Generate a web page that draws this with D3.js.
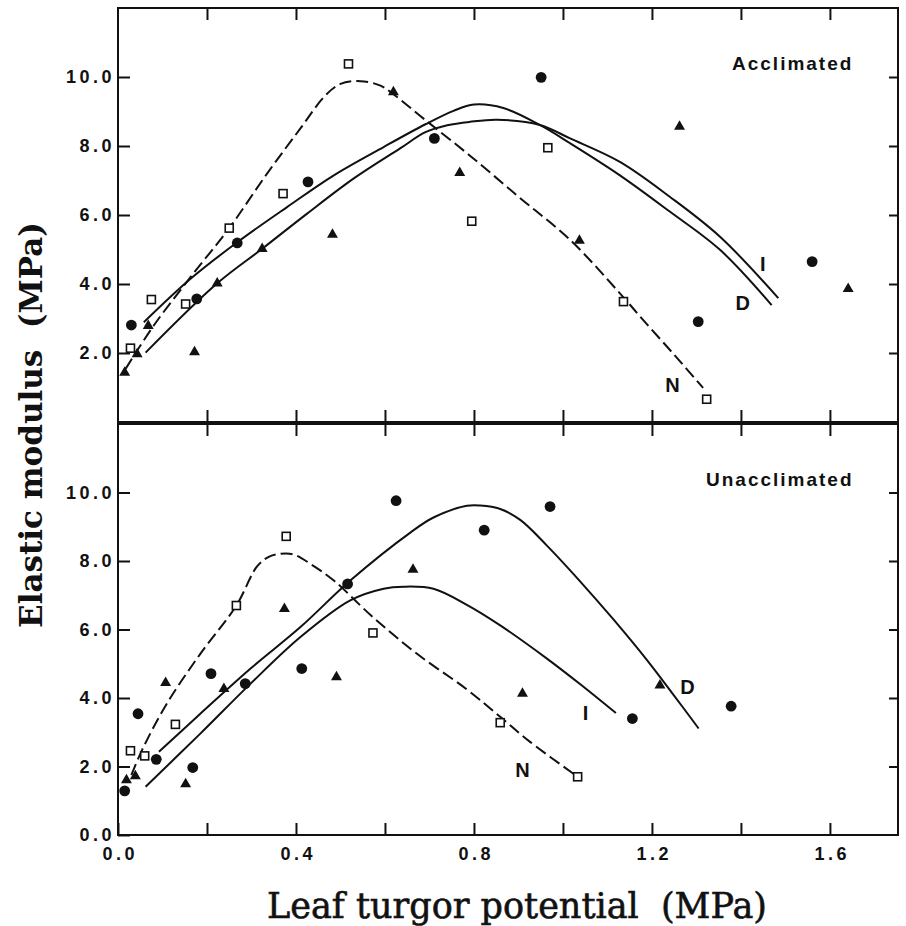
<!DOCTYPE html>
<html>
<head>
<meta charset="utf-8">
<script src="https://cdn.jsdelivr.net/npm/d3@7"></script>
<style>
body { margin: 0; background: #fff; }
svg { display: block; }
.tick text { font-family: "Liberation Sans", Arial, sans-serif; font-weight: bold; font-size: 18px; letter-spacing: 3.5px; fill: #111; }
.tick line { stroke: #111; stroke-width: 2; }
</style>
</head>
<body>
<div id="chart"></div>
<script>
const width = 906
const height = 926

// ticks
const xTicks = [0, 0.2, 0.4, 0.6, 0.8, 1.0, 1.2, 1.4, 1.6]
const xTickLabels = ["0.0", "", "0.4", "", "0.8", "", "1.2", "", "1.6"]
const yTicksTop = [2, 4, 6, 8, 10]
const yTicksBottom = [0, 2, 4, 6, 8, 10]

// Acclimated (top) - points
const accSquaresX = [0.028, 0.075, 0.152, 0.250, 0.371, 0.518, 0.795, 0.966, 1.136, 1.323]
const accSquaresY = [2.14, 3.55, 3.42, 5.62, 6.62, 10.38, 5.82, 7.95, 3.49, 0.66]
const accCirclesX = [0.030, 0.177, 0.268, 0.427, 0.711, 0.951, 1.304, 1.560]
const accCirclesY = [2.81, 3.57, 5.19, 6.96, 8.22, 9.99, 2.91, 4.65]
const accTrianglesX = [0.015, 0.043, 0.068, 0.172, 0.223, 0.324, 0.482, 0.619, 0.768, 1.037, 1.262, 1.641]
const accTrianglesY = [1.43, 1.97, 2.79, 2.03, 4.02, 5.02, 5.43, 9.56, 7.22, 5.26, 8.56, 3.86]

// Acclimated - fitted curves
const accCurveN = [[0.017,1.54],[0.08,2.79],[0.163,4.20],[0.25,5.62],[0.335,7.20],[0.41,8.51],[0.465,9.45],[0.50,9.80],[0.545,9.88],[0.59,9.75],[0.619,9.5],[0.691,8.75],[0.791,7.72],[0.903,6.5],[1.016,5.28],[1.128,3.73],[1.18,2.96],[1.25,1.95],[1.315,0.99]]
const accCurveD = [[0.058,2.89],[0.163,4.15],[0.268,5.21],[0.38,6.23],[0.485,7.15],[0.597,7.97],[0.691,8.63],[0.754,9.02],[0.80,9.2],[0.866,9.1],[0.948,8.61],[1.016,8.08],[1.128,7.15],[1.24,6.1],[1.353,4.99],[1.469,3.39]]
const accCurveI = [[0.062,2.01],[0.223,4.02],[0.324,5.02],[0.425,6.04],[0.53,7.06],[0.634,7.93],[0.691,8.4],[0.74,8.6],[0.791,8.70],[0.852,8.76],[0.948,8.61],[1.016,8.22],[1.128,7.54],[1.24,6.53],[1.353,5.37],[1.484,3.59]]

// Unacclimated (bottom) - points
const unaSquaresX = [0.028, 0.060, 0.129, 0.266, 0.378, 0.573, 0.859, 1.033]
const unaSquaresY = [2.46, 2.31, 3.23, 6.70, 8.72, 5.90, 3.28, 1.70]
const unaCirclesX = [0.015, 0.045, 0.086, 0.168, 0.209, 0.286, 0.413, 0.516, 0.625, 0.823, 0.971, 1.156, 1.378]
const unaCirclesY = [1.29, 3.54, 2.21, 1.97, 4.71, 4.42, 4.86, 7.33, 9.76, 8.90, 9.59, 3.40, 3.76]
const unaTrianglesX = [0.019, 0.039, 0.107, 0.152, 0.238, 0.374, 0.491, 0.663, 0.909, 1.218]
const unaTrianglesY = [1.60, 1.72, 4.44, 1.49, 4.27, 6.60, 4.61, 7.75, 4.13, 4.37]

const unaCurveN = [[0.03,1.75],[0.054,2.48],[0.11,3.84],[0.185,5.29],[0.266,6.70],[0.313,7.85],[0.34,8.13],[0.365,8.21],[0.395,8.19],[0.44,7.85],[0.485,7.43],[0.573,6.36],[0.672,5.29],[0.784,4.25],[0.859,3.45],[0.926,2.72],[1.033,1.70]]
const unaCurveD = [[0.092,2.43],[0.185,3.54],[0.298,4.86],[0.41,6.07],[0.522,7.43],[0.657,8.83],[0.709,9.27],[0.784,9.61],[0.814,9.62],[0.859,9.52],[0.904,9.2],[0.964,8.45],[1.039,7.4],[1.113,6.3],[1.188,5.12],[1.248,4.1],[1.305,3.11]]
const unaCurveI = [[0.062,1.41],[0.185,2.96],[0.298,4.42],[0.41,5.78],[0.522,6.85],[0.597,7.19],[0.642,7.25],[0.709,7.19],[0.784,6.72],[0.859,6.12],[0.964,5.15],[1.039,4.4],[1.119,3.56]]

// curve labels [text, x, y]
const accLabels = [["I", 1.449, 4.59], ["D", 1.404, 3.46], ["N", 1.246, 1.08]]
const unaLabels = [["D", 1.28, 4.31], ["I", 1.051, 3.55], ["N", 0.909, 1.89]]

const svg = d3.select("#chart").append("svg").attr("width", width).attr("height", height)
svg.append("rect").attr("width", width).attr("height", height).attr("fill", "#fff")

// escala x compartida
const x = d3.scaleLinear().domain([0, 1.753]).range([118, 898])

const panels = [
    {top: 8, bottom: 422, title: "Acclimated", titleX: 732, titleY: 70, xLabels: false, yTicks: yTicksTop,
     sq: [accSquaresX, accSquaresY], ci: [accCirclesX, accCirclesY], tr: [accTrianglesX, accTrianglesY],
     n: accCurveN, d: accCurveD, i: accCurveI, labels: accLabels},
    {top: 424, bottom: 835, title: "Unacclimated", titleX: 706, titleY: 486, xLabels: true, yTicks: yTicksBottom,
     sq: [unaSquaresX, unaSquaresY], ci: [unaCirclesX, unaCirclesY], tr: [unaTrianglesX, unaTrianglesY],
     n: unaCurveN, d: unaCurveD, i: unaCurveI, labels: unaLabels}
]

panels.forEach(p => {
    const y = d3.scaleLinear().domain([0, 12]).range([p.bottom, p.top])
    const g = svg.append("g")

    // ejes
    const yAxisL = d3.axisLeft(y).tickValues(p.yTicks).tickSizeInner(-12).tickSizeOuter(0).tickPadding(3).tickFormat(d3.format(".1f"))
    g.append("g").attr("transform", `translate(${x(0)},0)`).call(yAxisL).call(a => a.select(".domain").remove())

    const yAxisR = d3.axisRight(y).tickValues(p.yTicks.filter(v => v > 0)).tickSizeInner(-9).tickSizeOuter(0).tickFormat("")
    g.append("g").attr("transform", `translate(${x(1.753)},0)`).call(yAxisR).call(a => a.select(".domain").remove())

    const xAxisT = d3.axisTop(x).tickValues(xTicks.slice(1)).tickSizeInner(-12).tickSizeOuter(0).tickFormat("")
    g.append("g").attr("transform", `translate(0,${p.top})`).call(xAxisT).call(a => a.select(".domain").remove())

    const xAxisB = d3.axisBottom(x).tickValues(p.xLabels ? xTicks : xTicks.slice(1)).tickSizeInner(-12).tickSizeOuter(0).tickPadding(12)
        .tickFormat(p.xLabels ? (d, i) => xTickLabels[i] : "")
    g.append("g").attr("transform", `translate(0,${p.bottom})`).call(xAxisB).call(a => a.select(".domain").remove())
        .selectAll("text").attr("dx", 1.75)

    g.append("rect")
        .attr("x", x(0)).attr("y", p.top)
        .attr("width", x(1.753) - x(0)).attr("height", p.bottom - p.top)
        .attr("fill", "none").attr("stroke", "#111").attr("stroke-width", 2)

    g.append("text").attr("x", p.titleX).attr("y", p.titleY).text(p.title)
        .attr("font-family", "Liberation Sans, Arial, sans-serif").attr("font-weight", "bold")
        .attr("font-size", 19).attr("letter-spacing", 2).attr("fill", "#111")

    // curvas
    const line = d3.line().x(d => x(d[0])).y(d => y(d[1])).curve(d3.curveCatmullRom.alpha(0.5))
    g.append("path").attr("d", line(p.n)).attr("fill", "none").attr("stroke", "#111").attr("stroke-width", 2).attr("stroke-dasharray", "12,5")
    g.append("path").attr("d", line(p.d)).attr("fill", "none").attr("stroke", "#111").attr("stroke-width", 2)
    g.append("path").attr("d", line(p.i)).attr("fill", "none").attr("stroke", "#111").attr("stroke-width", 2)

    // puntos
    g.selectAll(".sq").data(p.sq[0]).enter().append("rect").attr("class", "sq")
        .attr("x", (d, i) => x(d) - 4).attr("y", (d, i) => y(p.sq[1][i]) - 4)
        .attr("width", 8).attr("height", 8)
        .attr("fill", "#fff").attr("stroke", "#111").attr("stroke-width", 1.6)

    g.selectAll(".ci").data(p.ci[0]).enter().append("circle").attr("class", "ci")
        .attr("cx", d => x(d)).attr("cy", (d, i) => y(p.ci[1][i])).attr("r", 5.4).attr("fill", "#111")

    g.selectAll(".tr").data(p.tr[0]).enter().append("path").attr("class", "tr")
        .attr("d", d3.symbol().type(d3.symbolTriangle).size(52))
        .attr("transform", (d, i) => `translate(${x(d)},${y(p.tr[1][i])})`).attr("fill", "#111")

    g.selectAll(".lab").data(p.labels).enter().append("text").attr("class", "lab")
        .attr("x", d => x(d[1])).attr("y", d => y(d[2]))
        .attr("text-anchor", "middle").attr("dominant-baseline", "central")
        .attr("font-family", "Liberation Sans, Arial, sans-serif").attr("font-weight", "bold")
        .attr("font-size", 20).attr("fill", "#111").text(d => d[0])
})

// títulos de ejes
svg.append("text").attr("transform", "translate(42,425) rotate(-90)").attr("text-anchor", "middle")
    .attr("font-family", "DejaVu Serif, serif").attr("font-weight", "bold").attr("font-size", 31).attr("fill", "#111")
    .style("white-space", "pre")
    .text("Elastic modulus  (MPa)")

svg.append("text").attr("x", 517).attr("y", 918).attr("text-anchor", "middle")
    .attr("font-family", "DejaVu Serif, serif").attr("font-size", 35).attr("fill", "#111")
    .attr("stroke", "#111").attr("stroke-width", 0.6)
    .style("white-space", "pre")
    .text("Leaf turgor potential  (MPa)")
</script>
</body>
</html>
